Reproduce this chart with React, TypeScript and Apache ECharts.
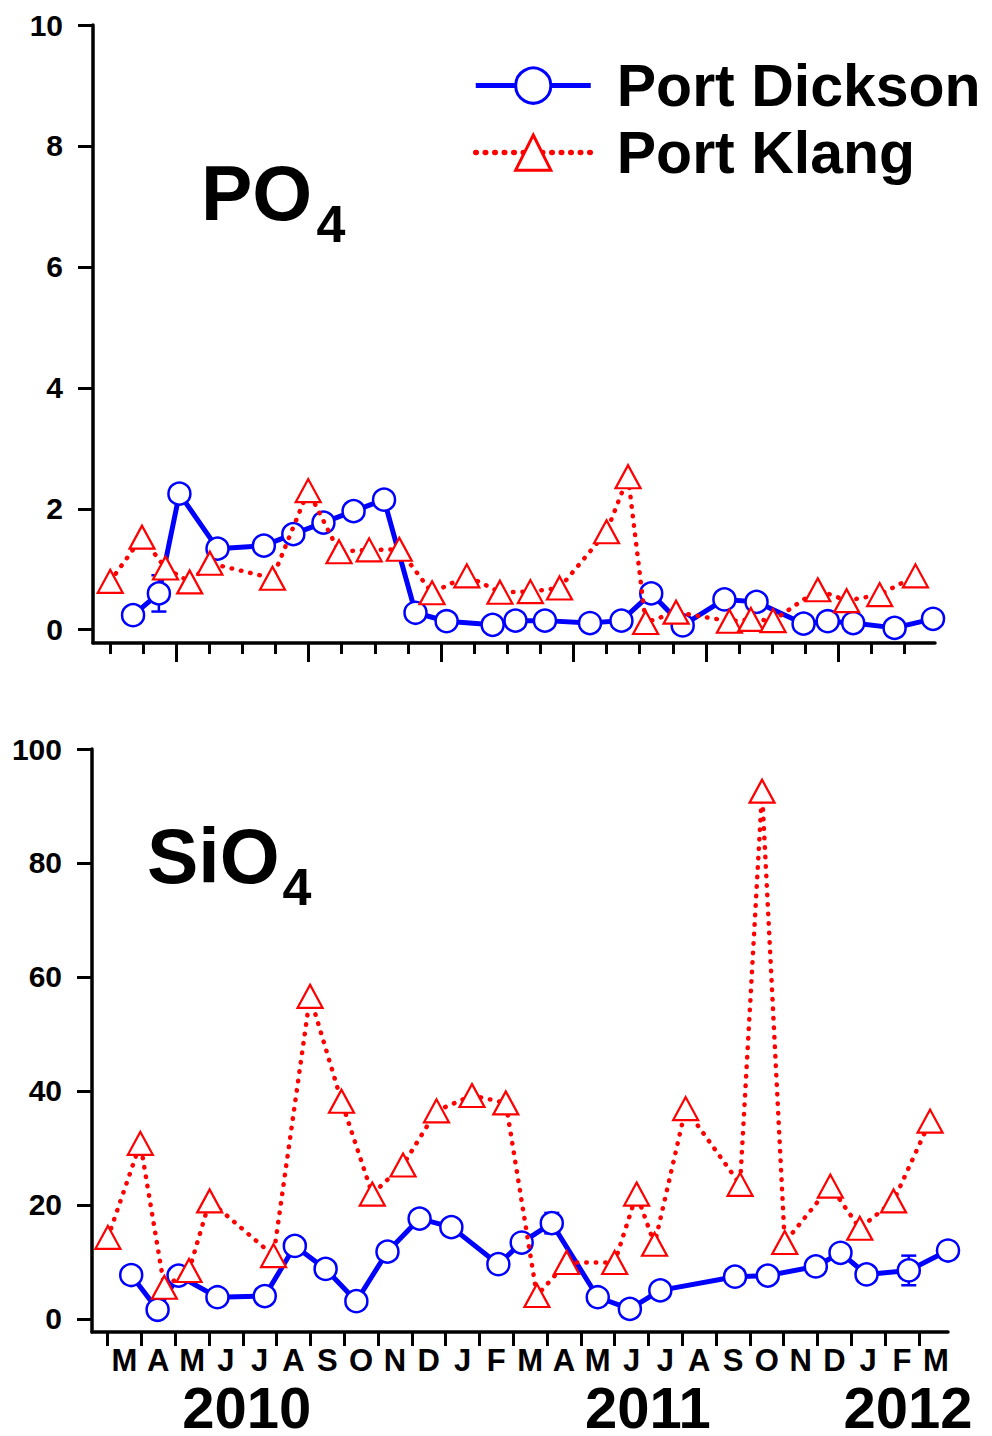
import React, { useEffect, useRef } from "react";
import * as echarts from "echarts";

// Sampling dates, expressed in months since 1 March 2010
const dicksonMonths = [0.7, 1.48, 2.1, 3.25, 4.65, 5.54, 6.45, 7.36, 8.28, 9.23, 10.17, 11.56, 12.25, 13.14, 14.5, 15.45, 16.35, 17.3, 18.56, 19.53, 20.95, 21.68, 22.45, 23.7, 24.86];
const klangMonths = [0.01, 0.97, 1.68, 2.41, 3.02, 4.91, 5.99, 6.92, 7.83, 8.74, 9.73, 10.78, 11.78, 12.7, 13.58, 15.0, 15.65, 16.18, 17.1, 18.71, 19.36, 20.03, 21.38, 22.25, 23.25, 24.33];

// PO4
const dicksonPO4 = [0.24, 0.6, 2.25, 1.34, 1.39, 1.58, 1.77, 1.96, 2.15, 0.28, 0.14, 0.08, 0.15, 0.15, 0.11, 0.15, 0.6, 0.07, 0.5, 0.46, 0.1, 0.14, 0.11, 0.03, 0.18];
const klangPO4 = [0.8, 1.53, 1.02, 0.79, 1.1, 0.85, 2.3, 1.29, 1.32, 1.33, 0.61, 0.89, 0.62, 0.63, 0.69, 1.62, 2.53, 0.12, 0.29, 0.14, 0.17, 0.15, 0.66, 0.48, 0.58, 0.89];
const dicksonPO4ErrIdx = [1];
const dicksonPO4Err = [0.3];

// SiO4
const dicksonSiO4 = [7.7, 1.6, 7.6, 3.8, 4.0, 12.8, 8.76, 3.1, 11.8, 17.6, 16.1, 9.6, 13.4, 16.8, 3.8, 1.75, 5.0, null, 7.4, 7.6, 9.2, 11.6, 7.8, 8.5, 12.0];
const klangSiO4 = [14.3, 30.8, 5.55, 8.5, 20.7, 11.1, 56.6, 38.2, 21.9, 27, 36.5, 39.2, 37.9, 4.1, 9.9, 9.9, 21.9, 13.1, 36.9, 23.6, 92.6, 13.4, 23.3, 15.9, 20.7, 34.7];
const dicksonSiO4ErrIdx = [13, 23, 24];
const dicksonSiO4Err = [1.8, 2.6, 1.5];

// Axis ticks and labels
const monthTicks = [0, 1, 2, 3, 4, 5, 6, 7, 8, 9, 10, 11, 12, 13, 14, 15, 16, 17, 18, 19, 20, 21, 22, 23, 24];
const majorMonthTicks = [2, 6, 10, 14, 18, 22];
const monthLabels = ["M", "A", "M", "J", "J", "A", "S", "O", "N", "D", "J", "F", "M", "A", "M", "J", "J", "A", "S", "O", "N", "D", "J", "F", "M"];
const yearLabels = ["2010", "2011", "2012"];
const yearLabelPos = [4.12, 15.98, 23.68];
const po4Ticks = [0, 2, 4, 6, 8, 10];
const sio4Ticks = [0, 20, 40, 60, 80, 100];

const FONT = "Liberation Sans, Arial, sans-serif";
const BLUE = "#0000ff";
const RED = "#ff0000";

function pairs(xs: number[], ys: (number | null)[]) {
  return xs.map((x, i) => [x, ys[i]]);
}

function errData(idx: number[], err: number[], xs: number[], ys: (number | null)[]) {
  return idx.map((i, k) => [xs[i], ys[i], err[k]]);
}

const errRender = (params: any, api: any) => {
  const x = api.value(0);
  const y = api.value(1);
  const e = api.value(2);
  const hi = api.coord([x, y + e]);
  const lo = api.coord([x, y - e]);
  const half = 7.5;
  const style = { stroke: BLUE, lineWidth: 2.5 };
  return {
    type: "group",
    children: [
      { type: "line", shape: { x1: hi[0], y1: hi[1], x2: lo[0], y2: lo[1] }, style },
      { type: "line", shape: { x1: hi[0] - half, y1: hi[1], x2: hi[0] + half, y2: hi[1] }, style },
      { type: "line", shape: { x1: lo[0] - half, y1: lo[1], x2: lo[0] + half, y2: lo[1] }, style },
    ],
  };
};

export default function App() {
  const ref = useRef<HTMLDivElement>(null);

  useEffect(() => {
    document.body.style.margin = "0";
    if (!ref.current) return;
    const chart = echarts.init(ref.current, undefined, { renderer: "svg" });

    const axisLineStyle = { color: "#000", width: 3.5 };
    const tickLabel = { fontSize: 30, fontWeight: "bold" as const, fontFamily: FONT, color: "#000" };

    const dicksonStyle = (xi: number, yi: number, ys: (number | null)[]) => ({
      name: "Port Dickson",
      type: "line",
      xAxisIndex: xi,
      yAxisIndex: yi,
      data: pairs(dicksonMonths, ys),
      connectNulls: true,
      symbol: "circle",
      symbolSize: 22,
      lineStyle: { color: BLUE, width: 5 },
      itemStyle: { color: "#fff", borderColor: BLUE, borderWidth: 2.5 },
      z: 2,
      silent: true,
    });
    const klangStyle = (xi: number, yi: number, ys: number[]) => ({
      name: "Port Klang",
      type: "line",
      xAxisIndex: xi,
      yAxisIndex: yi,
      data: pairs(klangMonths, ys),
      symbol: "triangle",
      symbolSize: [25, 23],
      lineStyle: { color: RED, width: 4.5, type: [0.5, 9], cap: "round" },
      itemStyle: { color: "#fff", borderColor: RED, borderWidth: 2.2 },
      z: 3,
      silent: true,
    });

    chart.setOption({
      animation: false,
      backgroundColor: "#fff",
      grid: [
        { left: 93, right: 57, top: 25, height: 618 },
        { left: 92, right: 44, top: 749, height: 585 },
      ],
      xAxis: [
        {
          gridIndex: 0, type: "value", position: "bottom", min: -0.51, max: 24.92,
          axisLine: { onZero: false, lineStyle: axisLineStyle },
          axisTick: { customValues: monthTicks, length: 11, lineStyle: { color: "#000", width: 3 } },
          axisLabel: { show: false },
          splitLine: { show: false },
        },
        {
          gridIndex: 0, type: "value", position: "bottom", min: -0.51, max: 24.92,
          axisLine: { show: false, onZero: false },
          axisTick: { customValues: majorMonthTicks, length: 19, lineStyle: { color: "#000", width: 3 } },
          axisLabel: { show: false },
          splitLine: { show: false },
        },
        {
          gridIndex: 1, type: "value", position: "bottom", min: -0.46, max: 24.86,
          axisLine: { onZero: false, lineStyle: axisLineStyle },
          axisTick: { customValues: monthTicks, length: 14, lineStyle: { color: "#000", width: 3 } },
          axisLabel: {
            customValues: monthTicks.map((m) => m + 0.5),
            formatter: (v: number) => monthLabels[Math.round(v - 0.5)] ?? "",
            margin: 13, fontSize: 31, lineHeight: 30, fontWeight: "bold", fontFamily: FONT, color: "#000",
            hideOverlap: false,
          },
          splitLine: { show: false },
        },
        {
          gridIndex: 1, type: "value", position: "bottom", min: -0.46, max: 24.86,
          axisLine: { show: false, onZero: false },
          axisTick: { show: false },
          axisLabel: {
            customValues: yearLabelPos,
            formatter: (v: number) => yearLabels[yearLabelPos.indexOf(v)] ?? "",
            margin: 54, fontSize: 58, lineHeight: 42, fontWeight: "bold", fontFamily: FONT, color: "#000",
          },
          splitLine: { show: false },
        },
      ],
      yAxis: [
        {
          gridIndex: 0, type: "value", min: -0.22, max: 10,
          axisLine: { show: true, onZero: false, lineStyle: axisLineStyle },
          axisTick: { show: true, customValues: po4Ticks, length: 15, lineStyle: { color: "#000", width: 3 } },
          axisLabel: { customValues: po4Ticks, margin: 30, ...tickLabel },
          splitLine: { show: false },
        },
        {
          gridIndex: 1, type: "value", min: -2.3, max: 100,
          axisLine: { show: true, onZero: false, lineStyle: axisLineStyle },
          axisTick: { show: true, customValues: sio4Ticks, length: 15, lineStyle: { color: "#000", width: 3 } },
          axisLabel: { customValues: sio4Ticks, margin: 30, ...tickLabel },
          splitLine: { show: false },
        },
      ],
      legend: {
        data: [
          {
            name: "Port Dickson",
            lineStyle: { width: 5, color: BLUE },
            itemStyle: { color: "#fff", borderColor: BLUE, borderWidth: 3 },
          },
          {
            name: "Port Klang",
            lineStyle: { width: 5.5, color: RED, type: [0.5, 9], cap: "round" },
            itemStyle: { color: "#fff", borderColor: RED, borderWidth: 3 },
          },
        ],
        orient: "vertical",
        left: 473,
        top: 55.6,
        padding: 0,
        itemGap: 7,
        itemWidth: 115,
        itemHeight: 44,
        selectedMode: false,
        textStyle: {
          fontSize: 59, fontWeight: "bold", fontFamily: FONT, color: "#000",
          lineHeight: 60, padding: [0, 0, 0, 21],
        },
      },
      graphic: [
        { type: "text", x: 201, y: 192.5, style: { text: "PO", fontSize: 77, fontWeight: "bold", fontFamily: FONT, fill: "#000", verticalAlign: "middle", align: "left" } },
        { type: "text", x: 316.5, y: 223.5, style: { text: "4", fontSize: 52, fontWeight: "bold", fontFamily: FONT, fill: "#000", verticalAlign: "middle", align: "left" } },
        { type: "text", x: 147, y: 855.5, style: { text: "SiO", fontSize: 77, fontWeight: "bold", fontFamily: FONT, fill: "#000", verticalAlign: "middle", align: "left" } },
        { type: "text", x: 282.5, y: 887, style: { text: "4", fontSize: 52, fontWeight: "bold", fontFamily: FONT, fill: "#000", verticalAlign: "middle", align: "left" } },
      ],
      series: [
        {
          type: "custom", xAxisIndex: 0, yAxisIndex: 0, z: 1, silent: true,
          data: errData(dicksonPO4ErrIdx, dicksonPO4Err, dicksonMonths, dicksonPO4),
          renderItem: errRender,
        },
        dicksonStyle(0, 0, dicksonPO4),
        klangStyle(0, 0, klangPO4),
        {
          type: "custom", xAxisIndex: 2, yAxisIndex: 1, z: 1, silent: true,
          data: errData(dicksonSiO4ErrIdx, dicksonSiO4Err, dicksonMonths, dicksonSiO4),
          renderItem: errRender,
        },
        dicksonStyle(2, 1, dicksonSiO4),
        klangStyle(2, 1, klangSiO4),
      ],
    });

    return () => chart.dispose();
  }, []);

  return <div ref={ref} style={{ width: 992, height: 1436 }} />;
}
